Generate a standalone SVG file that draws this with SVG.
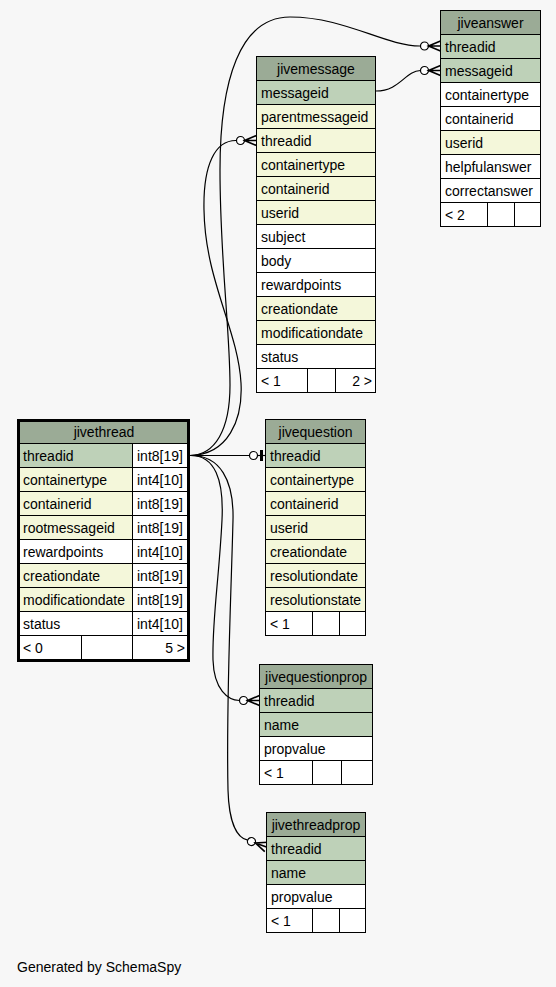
<svg xmlns="http://www.w3.org/2000/svg" width="556" height="987" viewBox="0 0 556 987">
<style>
.bg{fill:#f7f7f7}
rect.c{stroke:#000;stroke-width:1}
.h{fill:#9bab96}
.pk{fill:#bed1b8}
.ix{fill:#f4f7da}
.w{fill:#ffffff}
text{font-family:"Liberation Sans",Arial,Helvetica,sans-serif;font-size:14px;fill:#000}
.m{text-anchor:middle}
.r{text-anchor:end}
.ln{fill:none;stroke:#000;stroke-width:1.2}
</style>
<defs>
<g id="crowodot">
<circle cx="-16" cy="0" r="4" fill="#fff" stroke="#000" stroke-width="1.2"/>
<path d="M0,-5 L-12,0 L0,5 M-12,0 L0,0" fill="none" stroke="#000" stroke-width="1.6"/>
</g>
<g id="teeodot">
<circle cx="-12" cy="0" r="4" fill="#fff" stroke="#000" stroke-width="1.2"/>
<path d="M-8,0 L0,0" stroke="#000" stroke-width="1.2"/>
<rect x="-5.5" y="-5.5" width="3" height="11" fill="#000"/>
</g>
</defs>
<rect class="bg" x="0" y="0" width="556" height="987"/>

<g id="connectors">
<path class="ln" d="M190,455.5 C215,455 230,430 230,385 C230,330 220,260 220,170 C220,80 240,17 290,17 C345,17 385,46 420,46"/>
<use href="#crowodot" transform="translate(440.5,46)"/>
<path class="ln" d="M190,455.5 C228,455 243,420 241,383 C238,330 205,280 204,210 C203,165 215,140 236.5,140.5"/>
<use href="#crowodot" transform="translate(256.5,140.5)"/>
<path class="ln" d="M376,91 C400,91 405,71 420.5,70.5"/>
<use href="#crowodot" transform="translate(440.5,70.5)"/>
<path class="ln" d="M190,455.5 L249.5,455.5"/>
<use href="#teeodot" transform="translate(265.5,455.5)"/>
<path class="ln" d="M190,455.5 C215,455 224,480 222,520 C219,580 212,620 213,660 C214,690 228,700 239.5,700.5"/>
<use href="#crowodot" transform="translate(259.5,700.5)"/>
<path class="ln" d="M190,455.5 C220,455 234,480 233,520 C231,600 226,700 228,790 C229,825 238,838 247.7,840.2"/>
<use href="#crowodot" transform="translate(266.5,847) rotate(20)"/>
</g>

<g id="jiveanswer">
<rect class="c h" x="440.5" y="10.5" width="100" height="24"/>
<text class="m" x="490.5" y="27.5">jiveanswer</text>
<rect class="c pk" x="440.5" y="34.5" width="100" height="24"/>
<text x="445" y="51.5">threadid</text>
<rect class="c pk" x="440.5" y="58.5" width="100" height="24"/>
<text x="445" y="75.5">messageid</text>
<rect class="c w" x="440.5" y="82.5" width="100" height="24"/>
<text x="445" y="99.5">containertype</text>
<rect class="c w" x="440.5" y="106.5" width="100" height="24"/>
<text x="445" y="123.5">containerid</text>
<rect class="c ix" x="440.5" y="130.5" width="100" height="24"/>
<text x="445" y="147.5">userid</text>
<rect class="c w" x="440.5" y="154.5" width="100" height="24"/>
<text x="445" y="171.5">helpfulanswer</text>
<rect class="c w" x="440.5" y="178.5" width="100" height="24"/>
<text x="445" y="195.5">correctanswer</text>
<rect class="c w" x="440.5" y="202.5" width="47" height="24"/>
<rect class="c w" x="487.5" y="202.5" width="27" height="24"/>
<rect class="c w" x="514.5" y="202.5" width="26" height="24"/>
<text x="445" y="219.5">&lt; 2</text>
</g>

<g id="jivemessage">
<rect class="c h" x="256.5" y="56.5" width="119" height="24"/>
<text class="m" x="316" y="73.5">jivemessage</text>
<rect class="c pk" x="256.5" y="80.5" width="119" height="24"/>
<text x="261" y="97.5">messageid</text>
<rect class="c ix" x="256.5" y="104.5" width="119" height="24"/>
<text x="261" y="121.5">parentmessageid</text>
<rect class="c ix" x="256.5" y="128.5" width="119" height="24"/>
<text x="261" y="145.5">threadid</text>
<rect class="c ix" x="256.5" y="152.5" width="119" height="24"/>
<text x="261" y="169.5">containertype</text>
<rect class="c ix" x="256.5" y="176.5" width="119" height="24"/>
<text x="261" y="193.5">containerid</text>
<rect class="c ix" x="256.5" y="200.5" width="119" height="24"/>
<text x="261" y="217.5">userid</text>
<rect class="c w" x="256.5" y="224.5" width="119" height="24"/>
<text x="261" y="241.5">subject</text>
<rect class="c w" x="256.5" y="248.5" width="119" height="24"/>
<text x="261" y="265.5">body</text>
<rect class="c w" x="256.5" y="272.5" width="119" height="24"/>
<text x="261" y="289.5">rewardpoints</text>
<rect class="c ix" x="256.5" y="296.5" width="119" height="24"/>
<text x="261" y="313.5">creationdate</text>
<rect class="c ix" x="256.5" y="320.5" width="119" height="24"/>
<text x="261" y="337.5">modificationdate</text>
<rect class="c w" x="256.5" y="344.5" width="119" height="24"/>
<text x="261" y="361.5">status</text>
<rect class="c w" x="256.5" y="368.5" width="51" height="24"/>
<rect class="c w" x="307.5" y="368.5" width="28" height="24"/>
<rect class="c w" x="335.5" y="368.5" width="40" height="24"/>
<text x="261" y="385.5">&lt; 1</text>
<text class="r" x="372" y="385.5">2 &gt;</text>
</g>

<g id="jivethread">
<rect class="c h" x="18.5" y="420.5" width="171" height="23"/>
<text class="m" x="104" y="437">jivethread</text>
<rect class="c pk" x="18.5" y="443.5" width="114" height="24"/>
<rect class="c w" x="132.5" y="443.5" width="57" height="24"/>
<text x="23" y="460.5">threadid</text><text x="137" y="460.5">int8[19]</text>
<rect class="c ix" x="18.5" y="467.5" width="114" height="24"/>
<rect class="c w" x="132.5" y="467.5" width="57" height="24"/>
<text x="23" y="484.5">containertype</text><text x="137" y="484.5">int4[10]</text>
<rect class="c ix" x="18.5" y="491.5" width="114" height="24"/>
<rect class="c w" x="132.5" y="491.5" width="57" height="24"/>
<text x="23" y="508.5">containerid</text><text x="137" y="508.5">int8[19]</text>
<rect class="c ix" x="18.5" y="515.5" width="114" height="24"/>
<rect class="c w" x="132.5" y="515.5" width="57" height="24"/>
<text x="23" y="532.5">rootmessageid</text><text x="137" y="532.5">int8[19]</text>
<rect class="c w" x="18.5" y="539.5" width="114" height="24"/>
<rect class="c w" x="132.5" y="539.5" width="57" height="24"/>
<text x="23" y="556.5">rewardpoints</text><text x="137" y="556.5">int4[10]</text>
<rect class="c ix" x="18.5" y="563.5" width="114" height="24"/>
<rect class="c w" x="132.5" y="563.5" width="57" height="24"/>
<text x="23" y="580.5">creationdate</text><text x="137" y="580.5">int8[19]</text>
<rect class="c ix" x="18.5" y="587.5" width="114" height="24"/>
<rect class="c w" x="132.5" y="587.5" width="57" height="24"/>
<text x="23" y="604.5">modificationdate</text><text x="137" y="604.5">int8[19]</text>
<rect class="c w" x="18.5" y="611.5" width="114" height="24"/>
<rect class="c w" x="132.5" y="611.5" width="57" height="24"/>
<text x="23" y="628.5">status</text><text x="137" y="628.5">int4[10]</text>
<rect class="c w" x="18.5" y="635.5" width="63" height="24"/>
<rect class="c w" x="81.5" y="635.5" width="51" height="24"/>
<rect class="c w" x="132.5" y="635.5" width="57" height="24"/>
<text x="23" y="652.5">&lt; 0</text>
<text class="r" x="185" y="652.5">5 &gt;</text>
<rect x="18.5" y="420.5" width="170" height="240" fill="none" stroke="#000" stroke-width="3"/>
</g>

<g id="jivequestion">
<rect class="c h" x="265.5" y="419.5" width="100" height="24"/>
<text class="m" x="315.5" y="436.5">jivequestion</text>
<rect class="c pk" x="265.5" y="443.5" width="100" height="24"/>
<text x="270" y="460.5">threadid</text>
<rect class="c ix" x="265.5" y="467.5" width="100" height="24"/>
<text x="270" y="484.5">containertype</text>
<rect class="c ix" x="265.5" y="491.5" width="100" height="24"/>
<text x="270" y="508.5">containerid</text>
<rect class="c ix" x="265.5" y="515.5" width="100" height="24"/>
<text x="270" y="532.5">userid</text>
<rect class="c ix" x="265.5" y="539.5" width="100" height="24"/>
<text x="270" y="556.5">creationdate</text>
<rect class="c ix" x="265.5" y="563.5" width="100" height="24"/>
<text x="270" y="580.5">resolutiondate</text>
<rect class="c ix" x="265.5" y="587.5" width="100" height="24"/>
<text x="270" y="604.5">resolutionstate</text>
<rect class="c w" x="265.5" y="611.5" width="47" height="24"/>
<rect class="c w" x="312.5" y="611.5" width="27" height="24"/>
<rect class="c w" x="339.5" y="611.5" width="26" height="24"/>
<text x="270" y="628.5">&lt; 1</text>
</g>

<g id="jivequestionprop">
<rect class="c h" x="259.5" y="664.5" width="113" height="24"/>
<text class="m" x="316" y="681.5">jivequestionprop</text>
<rect class="c pk" x="259.5" y="688.5" width="113" height="24"/>
<text x="264" y="705.5">threadid</text>
<rect class="c pk" x="259.5" y="712.5" width="113" height="24"/>
<text x="264" y="729.5">name</text>
<rect class="c w" x="259.5" y="736.5" width="113" height="24"/>
<text x="264" y="753.5">propvalue</text>
<rect class="c w" x="259.5" y="760.5" width="53" height="24"/>
<rect class="c w" x="312.5" y="760.5" width="29" height="24"/>
<rect class="c w" x="341.5" y="760.5" width="31" height="24"/>
<text x="264" y="777.5">&lt; 1</text>
</g>

<g id="jivethreadprop">
<rect class="c h" x="266.5" y="812.5" width="99" height="24"/>
<text class="m" x="316" y="829.5">jivethreadprop</text>
<rect class="c pk" x="266.5" y="836.5" width="99" height="24"/>
<text x="271" y="853.5">threadid</text>
<rect class="c pk" x="266.5" y="860.5" width="99" height="24"/>
<text x="271" y="877.5">name</text>
<rect class="c w" x="266.5" y="884.5" width="99" height="24"/>
<text x="271" y="901.5">propvalue</text>
<rect class="c w" x="266.5" y="908.5" width="46" height="24"/>
<rect class="c w" x="312.5" y="908.5" width="27" height="24"/>
<rect class="c w" x="339.5" y="908.5" width="26" height="24"/>
<text x="271" y="925.5">&lt; 1</text>
</g>

<text x="17" y="972">Generated by SchemaSpy</text>
</svg>
